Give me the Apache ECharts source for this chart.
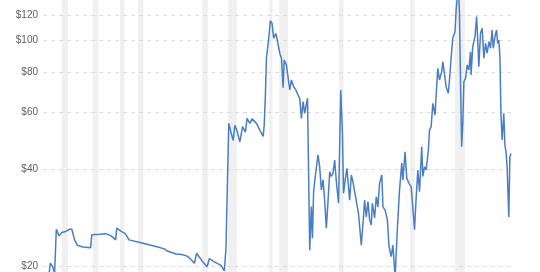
<!DOCTYPE html>
<html>
<head>
<meta charset="utf-8">
<script src="https://cdn.jsdelivr.net/npm/echarts@6/dist/echarts.min.js"></script>
<style>
  html, body { margin: 0; padding: 0; background: #fff; }
  #chart { width: 540px; height: 272px; }
</style>
</head>
<body>
<div id="chart"></div>
<script>
// Monthly crude oil price (inflation adjusted)
const dates = [
  '1946-01','1946-10','1947-02','1947-06','1947-10','1948-01','1948-06','1948-11','1949-06','1950-01',
  '1950-05','1950-10','1951-03','1952-01','1953-03','1953-05','1954-07','1955-06','1956-04','1956-12',
  '1957-02','1957-10','1958-04','1958-08','1958-12','1960-10','1963-04','1964-04','1964-08','1966-01',
  '1966-04','1966-11','1967-08','1968-01','1968-10','1969-02','1970-01','1970-09','1971-01','1971-10',
  '1972-10','1973-04','1973-07','1973-09','1973-12','1974-04','1974-08','1974-11','1975-03','1975-08',
  '1976-01','1976-06','1976-09','1977-02','1977-06','1978-02','1978-08','1979-02','1979-04','1979-06',
  '1979-08','1979-11','1980-01','1980-03','1980-06','1980-09','1981-01','1981-04','1981-08','1981-11',
  '1982-02','1982-04','1982-08','1982-11','1983-02','1983-05','1983-09','1984-01','1984-05','1984-08',
  '1984-11','1985-02','1985-05','1985-10','1986-02','1986-05','1986-07','1986-09','1987-01','1987-05',
  '1987-08','1987-11','1988-02','1988-05','1988-08','1988-12','1989-02','1989-05','1989-08','1989-11',
  '1990-02','1990-06','1990-10','1991-01','1991-03','1991-06','1991-09','1991-12','1992-02','1992-05',
  '1992-08','1992-11','1993-02','1993-06','1993-11','1994-03','1994-05','1994-08','1994-11','1995-02',
  '1995-05','1995-07','1995-11','1996-02','1996-05','1996-08','1996-12','1997-02','1997-06','1997-10',
  '1998-01','1998-05','1998-08','1998-12','1999-04','1999-08','1999-12','2000-02','2000-06','2000-09',
  '2001-01','2001-05','2001-11','2002-01','2002-05','2002-08','2002-12','2003-02','2003-05','2003-08',
  '2003-12','2004-02','2004-05','2004-08','2004-12','2005-02','2005-05','2005-08','2005-12','2006-02',
  '2006-05','2006-08','2006-12','2007-02','2007-05','2007-08','2007-12','2008-02','2008-06','2008-08',
  '2008-10','2008-12','2009-02','2009-04','2009-07','2009-10','2010-01','2010-04','2010-05','2010-08',
  '2010-12','2011-03','2011-05','2011-07','2011-10','2012-01','2012-04','2012-07','2012-10','2013-01',
  '2013-04','2013-07','2013-09','2013-12','2014-03','2014-05','2014-07','2014-09','2014-11','2015-01',
  '2015-04','2015-06','2015-08','2015-10','2016-01','2016-03','2016-05'
];
const prices = [
  16.5, 17.5, 20.4, 20.0, 19.0, 26.0, 24.8, 25.4, 25.6, 26.0,
  26.0, 24.1, 23.2, 22.9, 22.8, 25.0, 25.1, 25.2, 24.8, 24.1,
  26.2, 25.6, 25.3, 24.8, 24.1, 23.6, 22.9, 22.6, 22.3, 21.8,
  21.5, 21.7, 21.5, 21.2, 20.4, 21.9, 20.6, 19.9, 21.1, 20.6,
  20.1, 19.3, 22.7, 22.5, 55.4, 52.0, 49.0, 54.6, 52.5, 48.5,
  54.1, 52.0, 57.4, 55.4, 57.2, 55.4, 52.8, 50.5, 54.8, 67.0,
  88.2, 98.1, 105.4, 115.3, 113.2, 101.7, 105.4, 99.3, 91.4, 88.2,
  71.5, 87.1, 84.1, 85.1, 70.3, 75.5, 72.0, 70.3, 67.8, 66.0,
  57.4, 64.7, 59.5, 66.3, 22.4, 30.6, 24.4, 34.0, 39.2, 44.2,
  40.6, 34.4, 37.0, 32.0, 26.2, 34.0, 39.2, 37.9, 38.8, 42.6,
  36.5, 31.3, 70.3, 51.6, 33.6, 37.0, 40.2, 35.2, 32.0, 38.3,
  36.5, 34.0, 33.6, 29.1, 23.2, 28.4, 32.0, 28.4, 31.7, 27.8,
  26.8, 31.3, 28.2, 32.8, 30.5, 36.1, 38.3, 30.5, 29.8, 27.8,
  23.0, 21.4, 23.2, 18.5, 25.9, 34.4, 41.7, 37.0, 45.2, 37.4,
  36.1, 35.2, 25.9, 30.5, 39.7, 34.0, 46.9, 37.9, 40.6, 39.7,
  45.8, 52.8, 54.1, 63.9, 58.8, 67.8, 82.1, 75.5, 80.1, 86.1,
  85.3, 72.0, 68.7, 75.5, 88.2, 101.7, 106.6, 124.5, 150.0, 122.0,
  73.0, 46.9, 55.4, 74.6, 76.4, 84.1, 81.1, 92.4, 78.3, 95.8,
  102.9, 118.7, 100.5, 83.0, 105.4, 109.2, 88.2, 98.1, 91.4, 99.3,
  94.7, 107.9, 94.7, 102.9, 107.9, 98.1, 100.5, 89.2, 58.1, 49.2,
  59.5, 47.5, 45.2, 40.6, 28.4, 43.7, 44.7
];
// US recessions (start, end)
const recessionStarts = ['1948-11','1953-07','1957-08','1960-04','1969-12','1973-11','1980-01','1981-07','1990-07','2001-03','2007-12'];
const recessionEnds   = ['1949-10','1954-05','1958-04','1961-02','1970-11','1975-03','1980-07','1982-11','1991-03','2001-11','2009-06'];
// Y-axis tick values (log scale)
const yTicks = [20, 40, 60, 80, 100, 120];

const chart = echarts.init(document.getElementById('chart'), null, { renderer: 'canvas' });
const option = {
  animation: false,
  grid: { left: 43, right: 29, top: 0, bottom: 0, containLabel: false },
  xAxis: {
    type: 'time',
    min: '1946-01-01',
    max: '2016-05-01',
    show: false
  },
  yAxis: {
    type: 'log',
    logBase: 10,
    min: 19.16,
    max: 133.7,
    axisLine: { show: false },
    axisTick: { show: false },
    splitLine: { show: false },
    axisLabel: {
      customValues: yTicks,
      formatter: function (v) { return '$' + Math.round(v); },
      color: '#5f5f5f',
      fontSize: 10,
      fontFamily: 'Liberation Sans, Arial, sans-serif',
      margin: 5
    }
  },
  series: [{
    type: 'line',
    data: dates.map((d, i) => [d, prices[i]]),
    symbol: 'none',
    showSymbol: false,
    clip: true,
    z: 3,
    lineStyle: { color: '#4a7ec4', width: 1.5 },
    markArea: {
      silent: true,
      z: 0,
      itemStyle: { color: '#f0f0f0' },
      data: recessionStarts.map((s, i) => [{ xAxis: s }, { xAxis: recessionEnds[i] }])
    },
    markLine: {
      silent: true,
      z: 1,
      symbol: 'none',
      label: { show: false },
      lineStyle: { color: '#dcdcdc', type: [4, 4], width: 1 },
      data: yTicks.map(v => ({ yAxis: v }))
    }
  }]
};
chart.setOption(option);
</script>
</body>
</html>
